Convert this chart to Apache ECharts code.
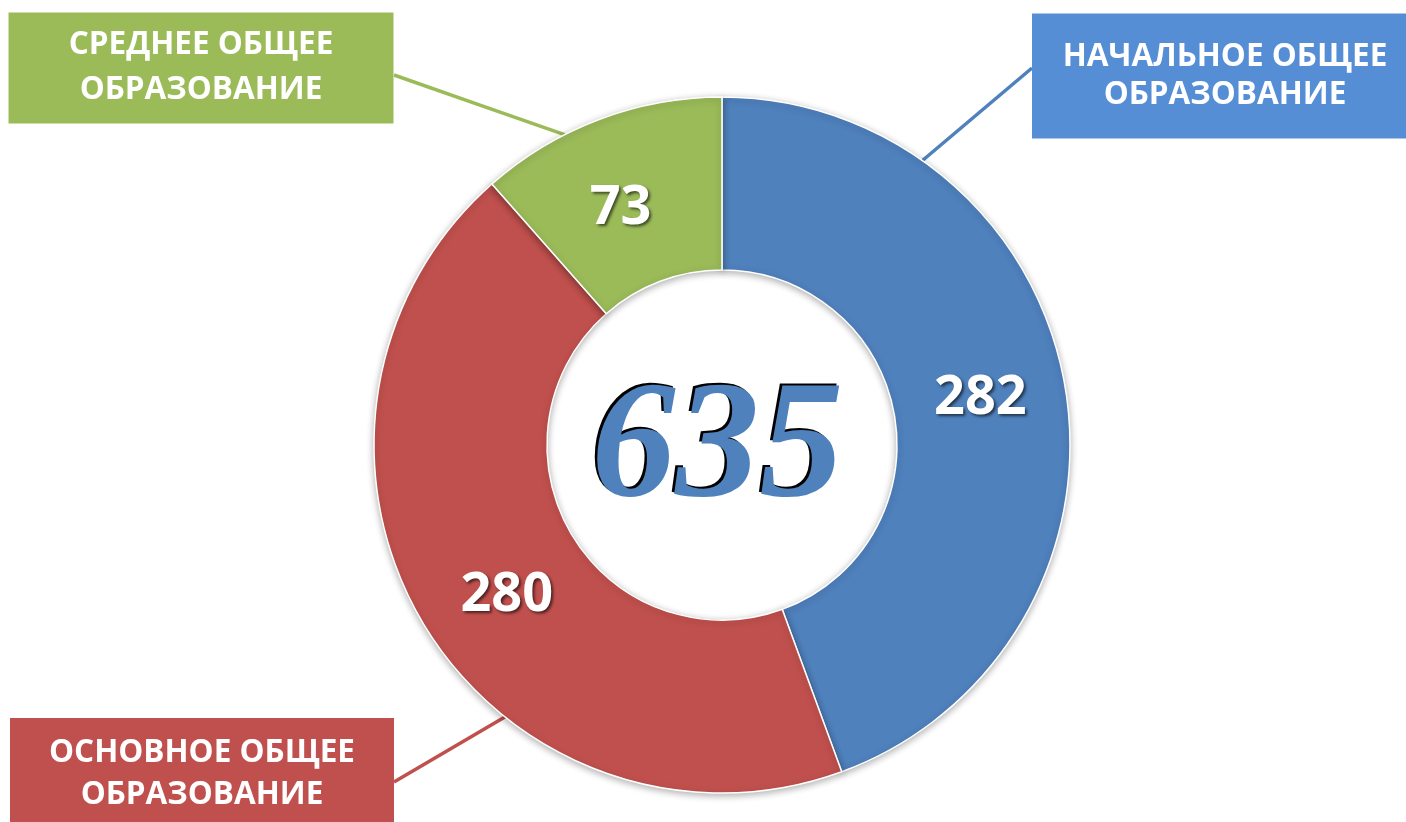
<!DOCTYPE html>
<html>
<head>
<meta charset="utf-8">
<script src="https://cdn.jsdelivr.net/npm/echarts@6/dist/echarts.min.js"></script>
<style>
  html, body { margin: 0; padding: 0; background: #ffffff; }
  #chart { width: 1406px; height: 822px; }
</style>
</head>
<body>
<div id="chart"></div>
<script>
// данные
var levels = ['НАЧАЛЬНОЕ ОБЩЕЕ\nОБРАЗОВАНИЕ', 'ОСНОВНОЕ ОБЩЕЕ\nОБРАЗОВАНИЕ', 'СРЕДНЕЕ ОБЩЕЕ\nОБРАЗОВАНИЕ'];
var pupils = [282, 280, 73];

// оформление
var sliceColors = ['#4F81BD', '#C0504D', '#9BBB59'];
var boxColors = ['#558ED5', '#C0504D', '#9BBB59'];
var CX = 722, CY = 445, R_IN = 175, R_OUT = 348;
// плашки: центр, ширина, отступы, интервал, точка крепления линии, доля сектора для конца линии
var boxLayout = [
  { x: 1219, y: 76, width: 362, padding: [21, 0, 28, 12], lineHeight: 38, attach: [1032, 68], along: 0.22 },
  { x: 202, y: 774, width: 384, padding: [12, 0, 16, 0], lineHeight: 42, attach: [394, 782], along: 0.37 },
  { x: 201, y: 68, width: 385, padding: [11, 0, 10, 0], lineHeight: 45, attach: [394, 75], along: 0.35 }
];
// сдвиг подписей значений
var valueShift = [[-2, 0], [12, 15], [-8, 11]];

var total = pupils.reduce(function (a, b) { return a + b; }, 0);

// точка на внешнем краю кольца внутри i-го сектора
function ringPoint(i) {
  var before = 0;
  for (var k = 0; k < i; k++) before += pupils[k];
  var frac = (before + pupils[i] * boxLayout[i].along) / total;
  var a = frac * 2 * Math.PI;
  return [CX + R_OUT * Math.sin(a), CY - R_OUT * Math.cos(a)];
}

var pieData = levels.map(function (name, i) {
  var b = boxLayout[i];
  return {
    name: name,
    value: pupils[i],
    itemStyle: { color: sliceColors[i] },
    label: {
      backgroundColor: boxColors[i],
      width: b.width,
      padding: b.padding,
      lineHeight: b.lineHeight
    },
    labelLine: { lineStyle: { color: sliceColors[i] } }
  };
});

var valueData = levels.map(function (name, i) {
  return { name: name, value: pupils[i] };
});

var chart = echarts.init(document.getElementById('chart'));

var option = {
  backgroundColor: '#ffffff',
  animation: false,
  series: [
    {
      type: 'pie',
      center: [CX, CY],
      radius: [R_IN, R_OUT],
      startAngle: 90,
      clockwise: true,
      avoidLabelOverlap: false,
      silent: true,
      itemStyle: {
        borderColor: '#ffffff',
        borderWidth: 1.5,
        shadowBlur: 7,
        shadowColor: 'rgba(0,0,0,0.3)',
        shadowOffsetY: 2
      },
      label: {
        show: true,
        position: 'outside',
        formatter: '{b}',
        color: '#ffffff',
        fontFamily: 'Open Sans',
        fontWeight: 'bold',
        fontSize: 31.5,
        align: 'center',
        verticalAlign: 'middle'
      },
      labelLine: {
        show: true,
        length: 20,
        length2: 20,
        smooth: false,
        lineStyle: { width: 3.5 }
      },
      labelLayout: function (params) {
        var i = params.dataIndex;
        var b = boxLayout[i];
        var p = ringPoint(i);
        var m = [(p[0] + b.attach[0]) / 2, (p[1] + b.attach[1]) / 2];
        return {
          x: b.x,
          y: b.y,
          align: 'center',
          verticalAlign: 'middle',
          labelLinePoints: [p, m, b.attach]
        };
      },
      data: pieData
    },
    {
      type: 'pie',
      center: [CX, CY],
      radius: [R_IN, R_OUT],
      startAngle: 90,
      clockwise: true,
      silent: true,
      itemStyle: { color: 'rgba(0,0,0,0)' },
      label: {
        show: true,
        position: 'inside',
        formatter: '{c}',
        color: '#ffffff',
        fontFamily: 'Open Sans',
        fontWeight: 'bold',
        fontSize: 54,
        textShadowColor: 'rgba(0,0,0,0.6)',
        textShadowBlur: 3,
        textShadowOffsetX: 2,
        textShadowOffsetY: 2
      },
      labelLine: { show: false },
      labelLayout: function (params) {
        var s = valueShift[params.dataIndex];
        return { dx: s[0], dy: s[1] };
      },
      data: valueData
    }
  ],
  graphic: [
    {
      type: 'text',
      x: 715,
      y: 450,
      silent: true,
      style: {
        text: String(total),
        fill: '#000000',
        font: 'italic bold 168px "Liberation Serif"',
        textAlign: 'center',
        textVerticalAlign: 'middle'
      }
    },
    {
      type: 'text',
      x: 717.5,
      y: 452,
      silent: true,
      style: {
        text: String(total),
        fill: '#4F81BD',
        font: 'italic bold 168px "Liberation Serif"',
        textAlign: 'center',
        textVerticalAlign: 'middle',
        shadowColor: 'rgba(120,120,120,0.9)',
        shadowOffsetX: 3,
        shadowOffsetY: 3,
        shadowBlur: 1
      }
    }
  ]
};

chart.setOption(option);
window.addEventListener('resize', function () {
  chart.resize();
});
</script>
</body>
</html>
